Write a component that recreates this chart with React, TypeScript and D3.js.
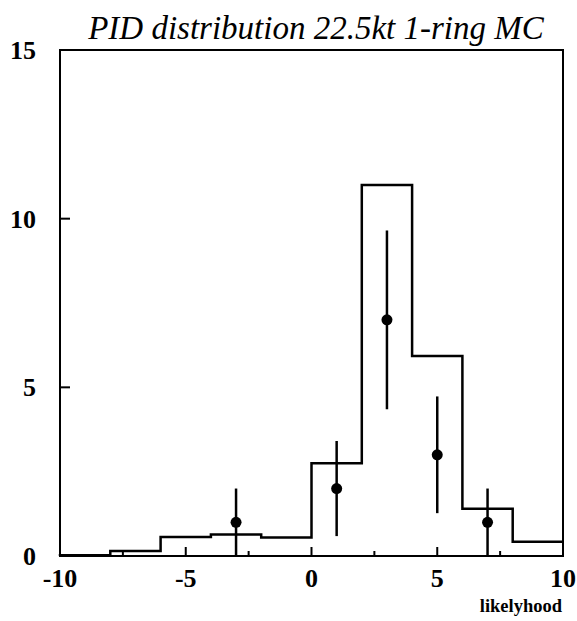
import * as d3 from "d3";

// histogram (MC expectation), bins of width 2
const binEdges = [-10, -8, -6, -4, -2, 0, 2, 4, 6, 8, 10];
const mcValues = [0.02, 0.15, 0.56, 0.64, 0.55, 2.75, 11, 5.93, 1.4, 0.42];

// data points with error bars
const dataX = [-3, 1, 3, 5, 7];
const dataY = [1, 2, 7, 3, 1];
const dataErr = [1, 1.41, 2.65, 1.73, 1];

const xMajor = [-10, -5, 0, 5, 10];
const xMinor = [-7.5, -2.5, 2.5, 7.5];
const yMajor = [0, 5, 10, 15];

const W = 577;
const H = 621;
const left = 60;
const right = 563;
const top = 50;
const bottom = 556;

const App = () => {
    const x = d3.scaleLinear().domain([-10, 10]).range([left, right]);
    const y = d3.scaleLinear().domain([0, 15]).range([bottom, top]);

    const pts: [number, number][] = [[binEdges[0], 0]];
    mcValues.forEach((v, i) => {
        pts.push([binEdges[i], v]);
        pts.push([binEdges[i + 1], v]);
    });
    const histPath = d3
        .line<[number, number]>()
        .x((d) => x(d[0]))
        .y((d) => y(d[1]))(pts);

    const serif = "'Liberation Serif', 'Times New Roman', serif";

    return (
        <div style={{ position: "absolute", left: 0, top: 0 }}>
            <svg width={W} height={H} style={{ display: "block", background: "#fff" }}>
                <text
                    x={316}
                    y={39}
                    textAnchor="middle"
                    fontFamily={serif}
                    fontStyle="italic"
                    fontSize={33}
                >
                    PID distribution 22.5kt 1-ring MC
                </text>

                {/* frame */}
                <rect
                    x={left}
                    y={top}
                    width={right - left}
                    height={bottom - top}
                    fill="none"
                    stroke="#000"
                    strokeWidth={2}
                />

                {/* x ticks */}
                {xMajor.map((t) => (
                    <line key={"xM" + t} x1={x(t)} x2={x(t)} y1={bottom} y2={bottom - 9} stroke="#000" strokeWidth={2} />
                ))}
                {xMinor.map((t) => (
                    <line key={"xm" + t} x1={x(t)} x2={x(t)} y1={bottom} y2={bottom - 5} stroke="#000" strokeWidth={2} />
                ))}
                {yMajor.map((t) => (
                    <line key={"yM" + t} x1={left} x2={left + 10} y1={y(t)} y2={y(t)} stroke="#000" strokeWidth={2} />
                ))}

                {/* tick labels */}
                {xMajor.map((t) => (
                    <text
                        key={"xl" + t}
                        x={x(t)}
                        y={587}
                        textAnchor="middle"
                        fontFamily={serif}
                        fontWeight="bold"
                        fontSize={26}
                    >
                        {t}
                    </text>
                ))}
                {yMajor.map((t) => (
                    <text
                        key={"yl" + t}
                        x={36}
                        y={y(t)}
                        dy="0.35em"
                        textAnchor="end"
                        fontFamily={serif}
                        fontWeight="bold"
                        fontSize={26}
                    >
                        {t}
                    </text>
                ))}
                <text
                    x={562}
                    y={612}
                    textAnchor="end"
                    fontFamily={serif}
                    fontWeight="bold"
                    fontSize={18.5}
                >
                    likelyhood
                </text>

                {/* MC histogram */}
                <path d={histPath ?? ""} fill="none" stroke="#000" strokeWidth={2.5} />

                {/* data with errors */}
                {dataX.map((d, i) => (
                    <g key={"p" + i}>
                        <line
                            x1={x(d)}
                            x2={x(d)}
                            y1={y(Math.max(0, dataY[i] - dataErr[i]))}
                            y2={y(dataY[i] + dataErr[i])}
                            stroke="#000"
                            strokeWidth={2.5}
                        />
                        <circle cx={x(d)} cy={y(dataY[i])} r={5.5} fill="#000" />
                    </g>
                ))}
            </svg>
        </div>
    );
};

export default App;
